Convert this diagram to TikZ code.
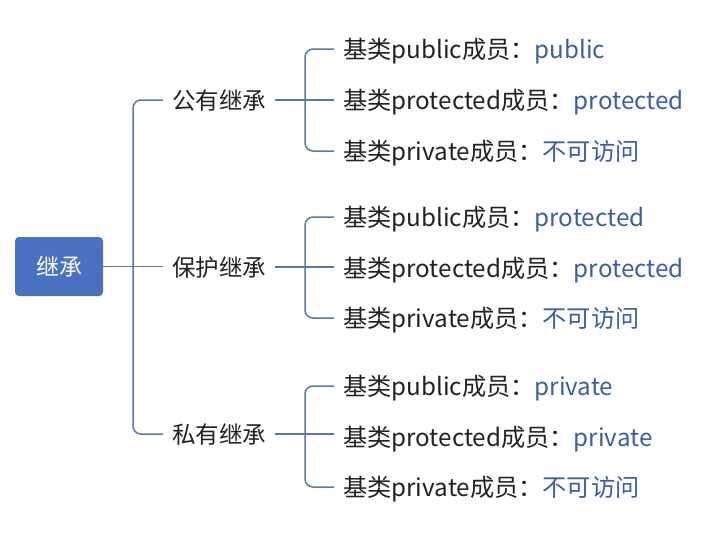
\documentclass[tikz,border=0pt]{standalone}
\usepackage{fontspec}
\setmainfont{Noto Sans CJK SC}
\definecolor{linec}{HTML}{5B78A8}
\definecolor{bluet}{HTML}{3A5FA8}
\definecolor{rootc}{HTML}{4A72C2}
\definecolor{textc}{HTML}{222222}
\begin{document}
\begin{tikzpicture}[x=1pt,y=-1pt,
  rootbox/.style={fill=rootc, rounded corners=4pt, minimum width=88pt, minimum height=59pt, text=white, font=\fontsize{23}{27}\selectfont, inner sep=0pt, text height=17.5pt, text depth=0pt},
  branchlbl/.style={anchor=west, inner xsep=9pt, inner ysep=0pt, text height=18pt, text depth=0pt, text=textc, font=\fontsize{23.5}{28}\selectfont},
  childlbl/.style={anchor=west, inner xsep=9pt, inner ysep=0pt, text height=18pt, text depth=0pt, text=textc, font=\fontsize{24.2}{28}\selectfont},
  conn/.style={draw=linec, line width=1.5pt, rounded corners=8pt}
]
\useasboundingbox[fill=white] (0,0) rectangle (704,542);
\newcommand{\bv}[1]{\textcolor{bluet}{#1}}

\node[rootbox] (root) at (59,266.5) {继承};

\node[branchlbl] (b1) at (163,100) {公有继承};
\node[branchlbl] (b2) at (163,267) {保护继承};
\node[branchlbl] (b3) at (163,434) {私有继承};

\node[childlbl] (c11) at (334,49) {基类public成员：\bv{public}};
\node[childlbl] (c12) at (334,100) {基类protected成员：\bv{protected}};
\node[childlbl] (c13) at (334,151) {基类private成员：\bv{不可访问}};

\node[childlbl] (c21) at (334,217) {基类public成员：\bv{protected}};
\node[childlbl] (c22) at (334,268) {基类protected成员：\bv{protected}};
\node[childlbl] (c23) at (334,318) {基类private成员：\bv{不可访问}};

\node[childlbl] (c31) at (334,386) {基类public成员：\bv{private}};
\node[childlbl] (c32) at (334,437) {基类protected成员：\bv{private}};
\node[childlbl] (c33) at (334,487) {基类private成员：\bv{不可访问}};

\coordinate (t0) at (133,267);
\coordinate (t1) at (305,100);
\coordinate (t2) at (305,268);
\coordinate (t3) at (305,437);

\draw[conn] (root.east) -- (root.east -| b2.west);
\draw[conn] (b1.west) -| (t0) |- (b3.west);

\draw[conn] (b1.east) -- (c12.west);
\draw[conn] (c11.west) -| (t1) |- (c13.west);

\draw[conn] (b2.east) -- (b2.east -| c22.west);
\draw[conn] (c21.west) -| (t2) |- (c23.west);

\draw[conn] (b3.east) -- (b3.east -| c32.west);
\draw[conn] (c31.west) -| (t3) |- (c33.west);
\end{tikzpicture}
\end{document}
